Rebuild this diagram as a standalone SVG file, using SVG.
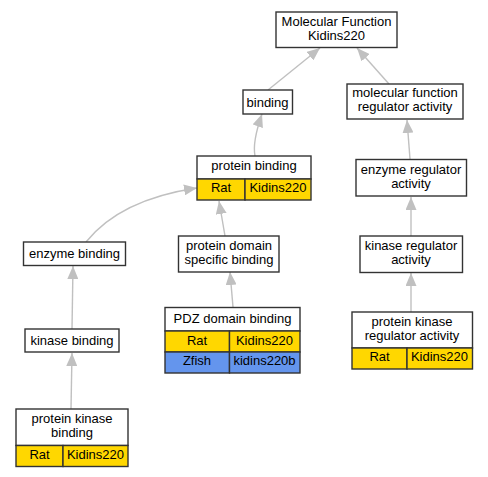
<svg xmlns="http://www.w3.org/2000/svg" width="488" height="477" viewBox="0 0 488 477">
<defs>
<style>
text{font-family:"Liberation Sans",Arial,sans-serif;font-size:13px;fill:#000;text-anchor:middle}
.box{fill:#fff;stroke:#333;stroke-width:1.4}
.rat{fill:#FFD700;stroke:#333;stroke-width:1.4}
.fish{fill:#6495ED;stroke:#333;stroke-width:1.4}
.edge{fill:none;stroke:#c0c0c0;stroke-width:1.4}
</style>
<marker id="arr" markerUnits="userSpaceOnUse" markerWidth="14" markerHeight="11" refX="13" refY="5.5" orient="auto">
<path d="M0,0 L13,5.5 L0,11 z" fill="#c0c0c0"/>
</marker>
</defs>
<rect width="488" height="477" fill="#fff"/>
<g id="edges">
<path class="edge" marker-end="url(#arr)" d="M268,90 L320,48"/>
<path class="edge" marker-end="url(#arr)" d="M389,84 L357,48"/>
<path class="edge" marker-end="url(#arr)" d="M255,156 C253,146 255,134 262,114"/>
<path class="edge" marker-end="url(#arr)" d="M86,242 C110,212 150,195 197,188"/>
<path class="edge" marker-end="url(#arr)" d="M225,236 L219,201"/>
<path class="edge" marker-end="url(#arr)" d="M233,307 L230,272"/>
<path class="edge" marker-end="url(#arr)" d="M72,329 L73,266"/>
<path class="edge" marker-end="url(#arr)" d="M71,409 L72,353"/>
<path class="edge" marker-end="url(#arr)" d="M410,159 L407,120"/>
<path class="edge" marker-end="url(#arr)" d="M411,236 L411,197"/>
<path class="edge" marker-end="url(#arr)" d="M411,312 L411,273"/>
</g>
<g id="mf">
<rect class="box" x="276" y="12" width="121" height="35.5"/>
<text x="336.5" y="26">Molecular Function</text>
<text x="336.5" y="40">Kidins220</text>
</g>
<g id="binding">
<rect class="box" x="243" y="90" width="49.5" height="24"/>
<text x="267.5" y="106.5">binding</text>
</g>
<g id="mfra">
<rect class="box" x="347" y="84" width="116" height="35"/>
<text x="405" y="97">molecular function</text>
<text x="405" y="111">regulator activity</text>
</g>
<g id="proteinbinding">
<rect class="box" x="197" y="156" width="114" height="23"/>
<rect class="rat" x="197" y="179" width="48" height="21"/>
<rect class="rat" x="245" y="179" width="66" height="21"/>
<text x="254" y="170">protein binding</text>
<text x="221" y="192">Rat</text>
<text x="278" y="192">Kidins220</text>
</g>
<g id="era">
<rect class="box" x="356" y="159.5" width="110.5" height="36.5"/>
<text x="411" y="173.5">enzyme regulator</text>
<text x="411" y="187.5">activity</text>
</g>
<g id="pdsb">
<rect class="box" x="178.5" y="236" width="100.5" height="36"/>
<text x="229" y="249.5">protein domain</text>
<text x="229" y="263.5">specific binding</text>
</g>
<g id="enzymebinding">
<rect class="box" x="23.5" y="242" width="102" height="23.5"/>
<text x="74.5" y="258">enzyme binding</text>
</g>
<g id="kra">
<rect class="box" x="360" y="236" width="102.5" height="36.5"/>
<text x="411" y="249.5">kinase regulator</text>
<text x="411" y="263.5">activity</text>
</g>
<g id="kinasebinding">
<rect class="box" x="25" y="329" width="94" height="23"/>
<text x="72" y="345">kinase binding</text>
</g>
<g id="pdz">
<rect class="box" x="165" y="307.5" width="135" height="23.5"/>
<rect class="rat" x="165" y="331" width="64.5" height="21"/>
<rect class="rat" x="229.5" y="331" width="70.5" height="21"/>
<rect class="fish" x="165" y="352" width="64.5" height="21"/>
<rect class="fish" x="229.5" y="352" width="70.5" height="21"/>
<text x="232.5" y="323">PDZ domain binding</text>
<text x="197" y="344.5">Rat</text>
<text x="264.5" y="344.5">Kidins220</text>
<text x="197" y="365">Zfish</text>
<text x="264.5" y="365">kidins220b</text>
</g>
<g id="pkra">
<rect class="box" x="352" y="312" width="120.5" height="36"/>
<rect class="rat" x="352" y="348" width="55" height="21"/>
<rect class="rat" x="407" y="348" width="65.5" height="21"/>
<text x="412" y="326">protein kinase</text>
<text x="412" y="340">regulator activity</text>
<text x="379.5" y="361">Rat</text>
<text x="439.5" y="361">Kidins220</text>
</g>
<g id="pkb">
<rect class="box" x="16" y="409" width="112" height="36.5"/>
<rect class="rat" x="16" y="445.5" width="47" height="21"/>
<rect class="rat" x="63" y="445.5" width="65" height="21"/>
<text x="72" y="423">protein kinase</text>
<text x="72" y="437">binding</text>
<text x="39.5" y="459">Rat</text>
<text x="95.5" y="459">Kidins220</text>
</g>
</svg>
